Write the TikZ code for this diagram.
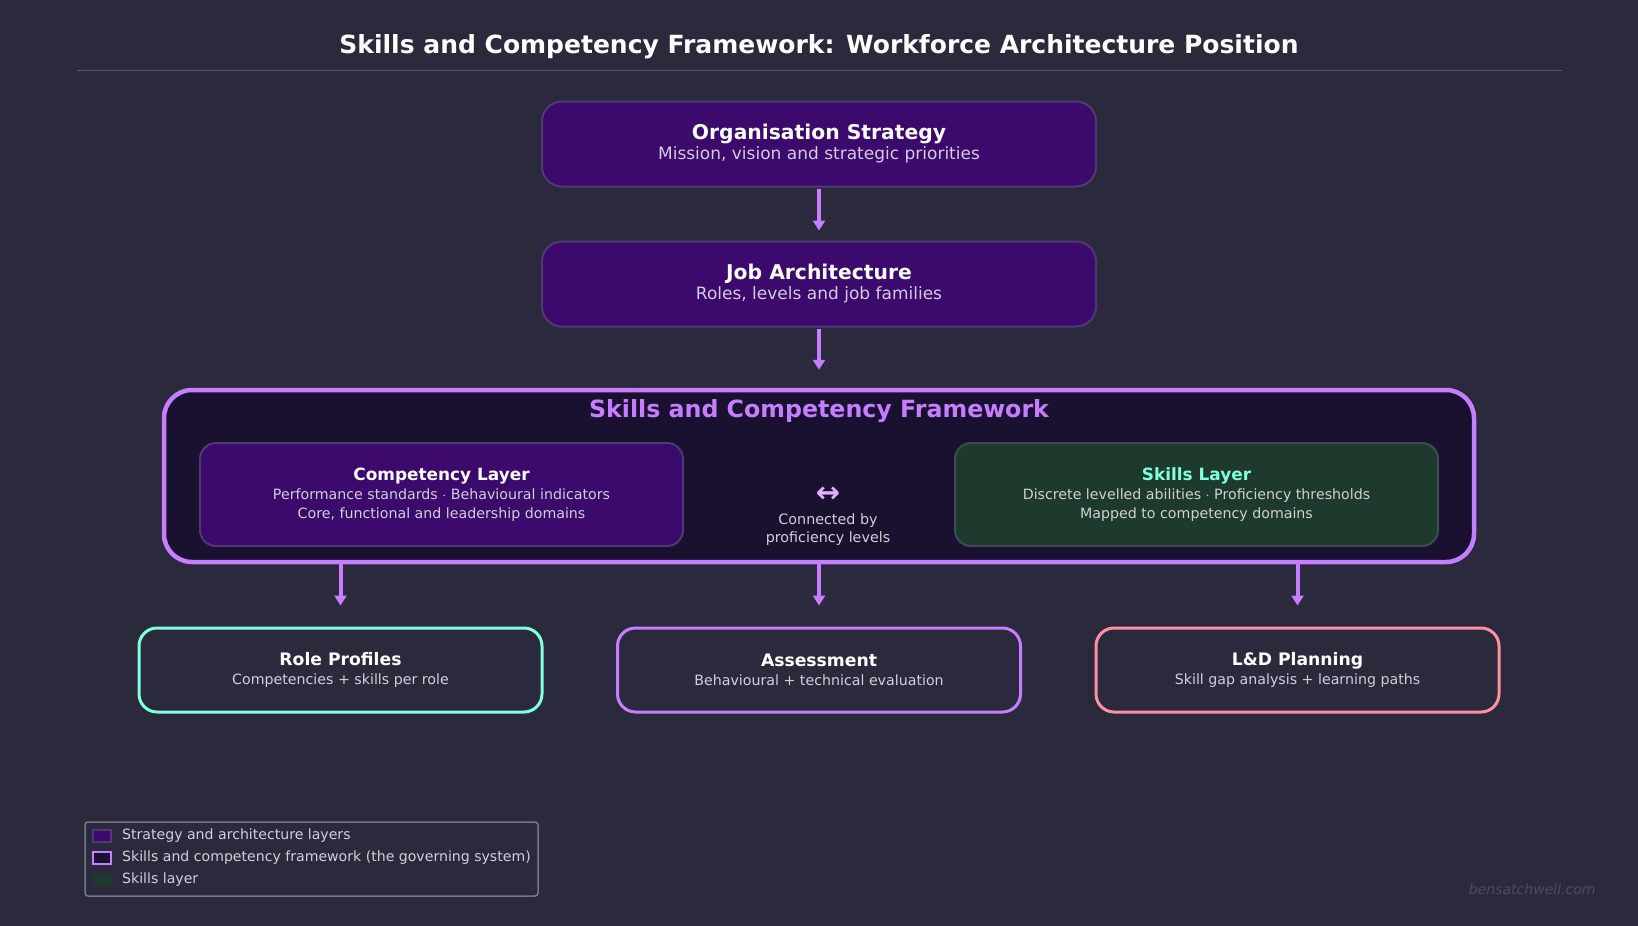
\documentclass[tikz,border=0pt]{standalone}
\usepackage{fontspec}
\setmainfont{DejaVu Sans}
\usetikzlibrary{arrows.meta}

\definecolor{bgcol}{HTML}{2A2A3C}
\definecolor{layerfill}{HTML}{3C096C}
\definecolor{layerline}{HTML}{4E3A72}
\definecolor{fwline}{HTML}{C77DFF}
\definecolor{fwfill}{HTML}{1A1030}
\definecolor{skillfill}{HTML}{1E3A2C}
\definecolor{skillline}{HTML}{3E4C50}
\definecolor{mint}{HTML}{80FFDB}
\definecolor{pinkline}{HTML}{FF8FA3}
\definecolor{subtext}{HTML}{D4CCE2}
\definecolor{greytext}{HTML}{D0D0D8}
\definecolor{ruleline}{HTML}{5A5A70}
\definecolor{legline}{HTML}{76768A}
\definecolor{markcol}{HTML}{4C4C62}
\definecolor{linkcol}{HTML}{E0B0FF}

\tikzset{
  layerbox/.style={draw=layerline, line width=2pt, fill=layerfill, rounded corners=20pt,
    minimum width=554pt, minimum height=85pt, inner sep=0pt, align=center,
    text=subtext, font=\fontsize{17}{20}\selectfont},
  innerbox/.style={line width=2pt, rounded corners=16pt, minimum width=483pt,
    minimum height=103pt, inner sep=0pt, align=center, text=greytext,
    font=\fontsize{14.2}{19}\selectfont},
  outbox/.style={line width=3pt, fill=bgcol, rounded corners=18pt, minimum width=403pt,
    minimum height=84pt, inner sep=0pt, align=center, text=greytext,
    font=\fontsize{14.2}{19}\selectfont},
  flow/.style={-{Triangle[length=10pt,width=12pt]}, line width=4pt, fwline},
  swatch/.style={minimum width=18pt, minimum height=12pt, inner sep=0pt, line width=1.5pt},
  legtext/.style={anchor=west, text=greytext, font=\fontsize{14.1}{16}\selectfont, inner sep=0pt}
}

\begin{document}
\begin{tikzpicture}[x=1pt, y=-1pt]
		% background and title
		\useasboundingbox (0,0) rectangle (1638,926);
		\fill[bgcol] (0,0) rectangle (1638,926);
		\node[text=white, font=\bfseries\fontsize{25}{28}\selectfont] (title) at (819,47)
			{Skills and Competency Framework: Workforce Architecture Position};
		\coordinate (ruleL) at (77,70);
		\coordinate (ruleR) at (1562,70);
		\draw[ruleline, line width=1pt] (ruleL) -- (ruleR);
		% strategy and architecture layers
		\node[layerbox] (org) at (819,144)
			{{\color{white}\bfseries\fontsize{20.3}{20}\selectfont Organisation Strategy}\\Mission, vision and strategic priorities};
		\node[layerbox] (job) at (819,284)
			{{\color{white}\bfseries\fontsize{20.3}{20}\selectfont Job Architecture}\\Roles, levels and job families};
		% the governing framework
		\node[draw=fwline, line width=4.5pt, fill=fwfill, rounded corners=28pt,
			minimum width=1310pt, minimum height=172pt] (fw) at (819,476) {};
		\node[text=fwline, font=\bfseries\fontsize{23.7}{26}\selectfont] (fwtitle) at (819,411)
			{Skills and Competency Framework};
		\node[innerbox, draw=layerline, fill=layerfill] (comp) at (441.5,494.5)
			{{\color{white}\bfseries\fontsize{16.9}{19}\selectfont Competency Layer}\\Performance standards $\cdot$ Behavioural indicators\\Core, functional and leadership domains};
		\node[innerbox, draw=skillline, fill=skillfill] (skill) at (1196.5,494.5)
			{{\color{mint}\bfseries\fontsize{16.9}{19}\selectfont Skills Layer}\\Discrete levelled abilities $\cdot$ Proficiency thresholds\\Mapped to competency domains};
		\node[text=linkcol, font=\bfseries\fontsize{29}{30}\selectfont] (link) at (828,495) {↔};
		\node[text=greytext, align=center, font=\fontsize{14.3}{18}\selectfont] (linktext) at (828,530)
			{Connected by\\proficiency levels};
		% outputs
		\node[outbox, draw=mint] (role) at (340.5,670)
			{{\color{white}\bfseries\fontsize{17.2}{19}\selectfont Role Profiles}\\Competencies + skills per role};
		\node[outbox, draw=fwline] (assess) at (819,670)
			{{\color{white}\bfseries\fontsize{17.2}{19}\selectfont Assessment}\\Behavioural + technical evaluation};
		\node[outbox, draw=pinkline] (ldp) at (1297.5,670)
			{{\color{white}\bfseries\fontsize{17.2}{19}\selectfont L\&D Planning}\\Skill gap analysis + learning paths};
		% arrows
		\draw[flow, shorten <=1pt, shorten >=10pt] (org) -- (job);
		\draw[flow, shorten <=1pt, shorten >=18pt] (job) -- (fwtitle.north |- fw.north);
		\foreach \b in {role,assess,ldp}
		{
			\draw[flow, shorten <=0pt, shorten >=21pt] (fw.south -| \b.north) -- (\b.north);
		}
		% legend
		\node[draw=legline, line width=1.5pt, rounded corners=3pt, minimum width=453pt,
			minimum height=74pt] (legend) at (311.5,859) {};
		\node[swatch, draw=layerline, fill=layerfill] (sw1) at (102,836) {};
		\node[swatch, draw=fwline, fill=fwfill] (sw2) at (102,858) {};
		\node[swatch, fill=skillfill] (sw3) at (102,880) {};
		\node[legtext] (lt1) at (122,836) {Strategy and architecture layers};
		\node[legtext] (lt2) at (122,858) {Skills and competency framework (the governing system)};
		\node[legtext] (lt3) at (122,880) {Skills layer};
		% watermark
		\node[anchor=east, text=markcol, font=\itshape\fontsize{14}{16}\selectfont] (mark) at (1599,889)
			{bensatchwell.com};
	\end{tikzpicture}
\end{document}
